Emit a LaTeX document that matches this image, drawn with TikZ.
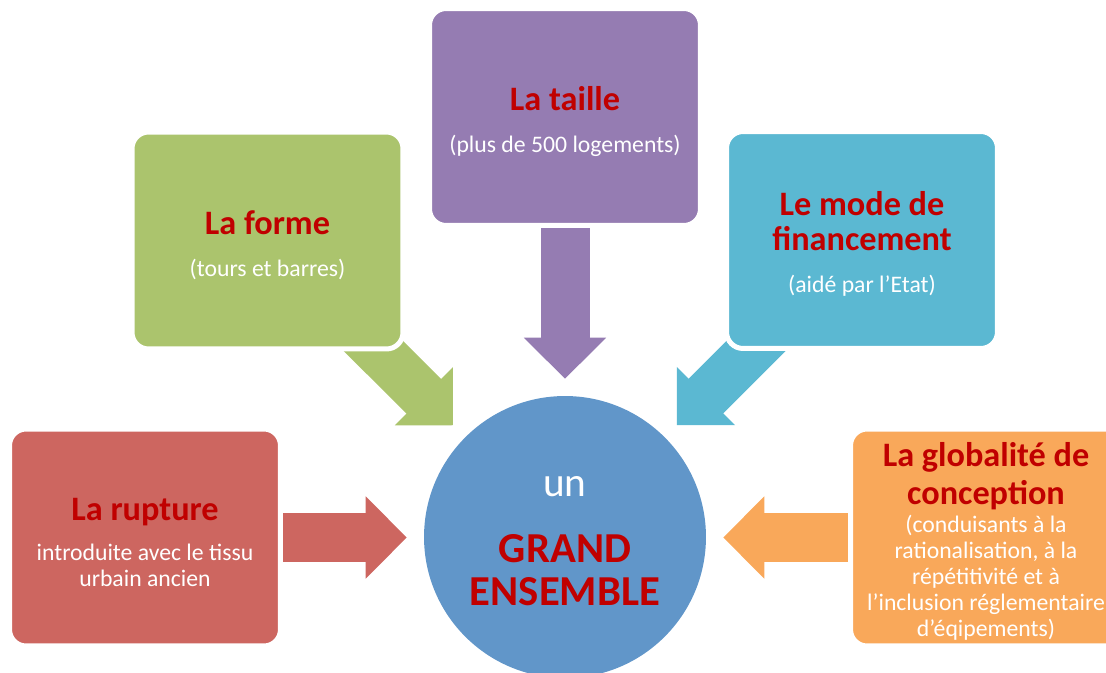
\documentclass[tikz,border=0pt]{standalone}
\usepackage{fontspec}
\setmainfont{Carlito}
\usetikzlibrary{arrows.meta,backgrounds}

\definecolor{violetcadre}{HTML}{957CB2}
\definecolor{vertcadre}{HTML}{ABC46D}
\definecolor{bleucadre}{HTML}{5BB8D2}
\definecolor{rougecadre}{HTML}{CD6660}
\definecolor{orangecadre}{HTML}{F9A85A}
\definecolor{bleucercle}{HTML}{6196C9}
\definecolor{rougetitre}{HTML}{C00000}

\setlength{\lineskiplimit}{-100pt}
\newcommand\titre[1]{{\fontsize{19.5}{20}\selectfont\bfseries\color{rougetitre}#1}}
\newcommand\haut{\rule{0pt}{18.5pt}}

\begin{document}
\begin{tikzpicture}[x=0.02cm,y=-0.02cm,
  cadre/.style={draw=white,line width=0.1cm,rounded corners=0.33cm,outer sep=0pt,
    minimum width=5.42cm,minimum height=4.34cm,inner sep=0pt,align=center,
    text=white,font=\fontsize{13.5}{14.8}\selectfont},
  fleche/.style={line width=0.98cm,
    -{Triangle[length=0.82cm,width=1.64cm,line width=1pt]}}]
  \useasboundingbox (0,0) rectangle (1106,673);
  \clip (0,0) rectangle (1106,673);

  \node[cadre,fill=violetcadre] (taille) at (565,117)
    {\titre{\haut La taille}\\[9.1pt](plus de 500 logements)};
  \node[cadre,fill=vertcadre] (forme) at (267.5,240.5)
    {\titre{\haut La forme}\\[9.1pt](tours et barres)};
  \node[cadre,fill=bleucadre] (mode) at (862,240)
    {\titre{\haut Le mode de}\\[5pt]\titre{financement}\\[9.2pt](aidé par l’Etat)};
  \node[cadre,fill=rougecadre] (rupture) at (145,537.5)
    {\titre{\haut La rupture}\\[8pt]introduite avec le tissu\\urbain ancien};
  \node[cadre,fill=orangecadre] (globalite) at (986,537.5)
    {\titre{\haut La globalité de}\\[6.8pt]\titre{conception}\\[1.2pt](conduisants à la\\
     rationalisation, à la\\répétitivité et à\\l’inclusion réglementaire\\d’éqipements)};

  \node[circle,fill=bleucercle,minimum size=5.64cm,inner sep=0pt] (centre) at (565,537) {};
  \node[text=white,align=center,font=\fontsize{23.5}{24.5}\selectfont]
    (nomcentre) at (565,541)
    {un\\[13.1pt]{\fontsize{24.3}{24.5}\selectfont\bfseries\color{rougetitre}GRAND}\\
     {\fontsize{24.3}{24.5}\selectfont\bfseries\color{rougetitre}ENSEMBLE}};

  \begin{scope}[on background layer]
    \draw[fleche,vertcadre,shorten >=0.34cm] (forme.center) -- (centre);
    \draw[fleche,bleucadre,shorten >=0.34cm] (mode.center) -- (centre);
    \draw[fleche,violetcadre,shorten >=0.34cm]
      (taille.south) -- (taille.south |- centre.north);
    \draw[fleche,rougecadre,shorten >=0.34cm]
      (rupture.east) -- (rupture.east -| centre.west);
    \draw[fleche,orangecadre,shorten >=0.34cm]
      (globalite.west) -- (globalite.west -| centre.east);
  \end{scope}
\end{tikzpicture}
\end{document}
